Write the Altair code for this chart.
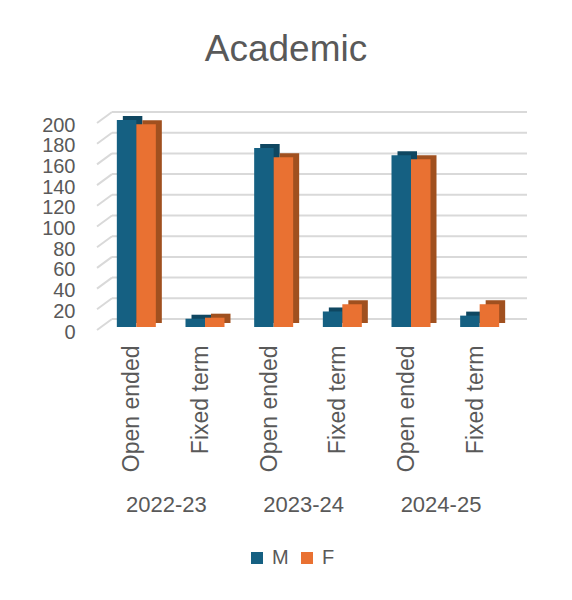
import altair as alt
import pandas as pd

years = ["2022-23", "2023-24", "2024-25"]
contract_types = ["Open ended", "Fixed term"]
male = [200, 8, 173, 15, 166, 11]
female = [196, 9, 164, 22, 162, 22]
sexes = ["M", "F"]
colors = ["#156082", "#E97132"]
dark_colors = ["#0F4761", "#A0501F"]
y_ticks = [0, 20, 40, 60, 80, 100, 120, 140, 160, 180, 200]

FONT = "Liberation Sans"
GREY = "#595959"
BAR_W = 19.5
DEPTH_X = 6
DEPTH_Y = 4

keys = [f"{y}|{t}" for y in years for t in contract_types]
rows = []
for i, k in enumerate(keys):
    rows.append(dict(key=k, sex="M", value=male[i], dark=dark_colors[0]))
    rows.append(dict(key=k, sex="F", value=female[i], dark=dark_colors[1]))
df = pd.DataFrame(rows)
grid_df = pd.DataFrame({"value": y_ticks})
year_df = pd.DataFrame({"key": [f"{y}|Open ended" for y in years], "year": years})

x_scale = alt.Scale(domain=keys, paddingInner=0.43, paddingOuter=0.215)
y_scale = alt.Scale(domain=[0, 200], nice=False)

x_axis = alt.Axis(title=None, labelExpr="split(datum.value, '|')[1]", labelAngle=-90,
                  labelAlign="right", labelBaseline="middle", labelFontSize=23,
                  labelColor=GREY, labelFont=FONT, ticks=False, domain=False,
                  labelPadding=18, labelOffset=-4)
y_axis = alt.Axis(title=None, values=y_ticks, grid=False, ticks=False, domain=False,
                  labelPadding=27, labelFontSize=20, labelColor=GREY, labelFont=FONT,
                  labelOffset=5, labelOverlap=False)

x_enc = alt.X("key:N", scale=x_scale, sort=keys, axis=x_axis)
y_enc = alt.Y("value:Q", scale=y_scale, axis=y_axis)
color_enc = alt.Color("sex:N", scale=alt.Scale(domain=sexes, range=colors),
                      legend=alt.Legend(orient="none", legendX=145, legendY=428,
                                        direction="horizontal", title=None,
                                        symbolType="square", symbolSize=144,
                                        symbolStrokeWidth=0, labelFontSize=20,
                                        labelColor=GREY, labelFont=FONT,
                                        labelOffset=5, columnPadding=8))

diag = alt.Chart(grid_df).mark_rule(color="#d9d9d9", strokeWidth=2, yOffset=3, y2Offset=-8).encode(
    x=alt.value(-5), x2=alt.value(10), y=y_enc, y2="value:Q")
grid = alt.Chart(grid_df).mark_rule(color="#d9d9d9", strokeWidth=2, yOffset=-8).encode(
    x=alt.value(10), x2=alt.value(425), y=y_enc)

layers = [diag, grid]
offsets = {"M": -BAR_W / 2, "F": BAR_W / 2}
base = alt.Chart(df)
for s in sexes:
    layers.append(
        base.transform_filter(alt.datum.sex == s)
        .mark_bar(width=BAR_W, xOffset=offsets[s] + DEPTH_X, yOffset=-DEPTH_Y, y2Offset=-DEPTH_Y)
        .encode(x=x_enc, y=y_enc, fill=alt.Fill("dark:N", scale=None))
    )
for s in sexes:
    layers.append(
        base.transform_filter(alt.datum.sex == s)
        .mark_bar(width=BAR_W, xOffset=offsets[s])
        .encode(x=x_enc, y=y_enc, color=color_enc)
    )

year_text = alt.Chart(year_df).mark_text(dx=30, baseline="alphabetic", fontSize=22,
                                         color=GREY, font=FONT).encode(
    x=x_enc, y=alt.value(392), text="year:N")
layers.append(year_text)

chart = alt.layer(*layers).properties(
    width=412, height=207,
    title=alt.Title("Academic", fontSize=37, fontWeight="normal", color=GREY, font=FONT,
                    anchor="middle", frame="group", dx=-22, offset=13,
                    baseline="alphabetic"),
    padding={"left": 94, "top": 112, "right": 50, "bottom": 250},
    autosize=alt.AutoSizeParams(type="none"),
).configure_view(stroke=None)

chart.save("out.html", embed_options={"renderer": "svg", "actions": False})
